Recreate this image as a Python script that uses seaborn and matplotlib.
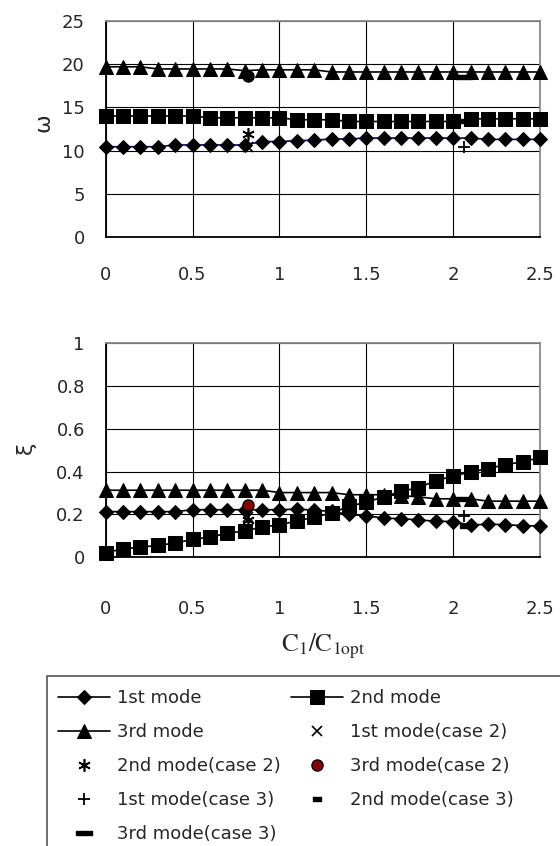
import matplotlib
matplotlib.use("Agg")
import matplotlib.pyplot as plt
from matplotlib.patches import Rectangle
import seaborn as sns
import pandas as pd

# ---------------- data ----------------
c_ratio = [0.0, 0.1, 0.2, 0.3, 0.4, 0.5, 0.6, 0.7, 0.8, 0.9, 1.0, 1.1, 1.2,
           1.3, 1.4, 1.5, 1.6, 1.7, 1.8, 1.9, 2.0, 2.1, 2.2, 2.3, 2.4, 2.5]

omega_1st = [10.45, 10.45, 10.45, 10.45, 10.65, 10.65, 10.65, 10.65, 10.65,
             11.05, 11.05, 11.15, 11.2, 11.35, 11.35, 11.45, 11.45, 11.45,
             11.45, 11.45, 11.45, 11.45, 11.3, 11.3, 11.3, 11.3]
omega_2nd = [14.0, 14.0, 14.0, 14.0, 14.0, 14.0, 13.8, 13.8, 13.8, 13.8, 13.8,
             13.57, 13.57, 13.57, 13.37, 13.37, 13.37, 13.37, 13.37, 13.37,
             13.37, 13.68, 13.68, 13.68, 13.68, 13.68]
omega_3rd = [19.7, 19.7, 19.7, 19.45, 19.45, 19.45, 19.45, 19.45, 19.25,
             19.35, 19.35, 19.35, 19.35, 19.1, 19.1, 19.1, 19.1, 19.1, 19.1,
             19.1, 19.1, 19.1, 19.1, 19.1, 19.1, 19.1]

xi_1st = [0.213, 0.213, 0.213, 0.213, 0.213, 0.222, 0.222, 0.222, 0.222,
          0.222, 0.222, 0.225, 0.22, 0.214, 0.2, 0.194, 0.183, 0.18, 0.175,
          0.168, 0.167, 0.15, 0.155, 0.152, 0.148, 0.146]
xi_2nd = [0.022, 0.039, 0.047, 0.056, 0.066, 0.084, 0.094, 0.112, 0.123,
          0.141, 0.152, 0.169, 0.188, 0.206, 0.238, 0.257, 0.282, 0.308,
          0.324, 0.358, 0.378, 0.399, 0.413, 0.433, 0.445, 0.466]
xi_3rd = [0.313, 0.313, 0.313, 0.313, 0.313, 0.313, 0.313, 0.313, 0.313,
          0.313, 0.302, 0.302, 0.302, 0.302, 0.292, 0.292, 0.292, 0.288,
          0.282, 0.273, 0.273, 0.273, 0.262, 0.262, 0.262, 0.262]

case2_x = 0.82
case3_x = 2.06
omega_case2 = [10.4, 11.95, 18.6]    # 1st, 2nd, 3rd mode
omega_case3 = [10.47, 13.4, 18.5]
xi_case2 = [0.19, 0.175, 0.245]
xi_case3 = [0.195, 0.145, 0.27]

x_ticks = [0, 0.5, 1, 1.5, 2, 2.5]
x_ticklabels = ["0", "0.5", "1", "1.5", "2", "2.5"]
omega_ticks = [0, 5, 10, 15, 20, 25]
xi_ticks = [0, 0.2, 0.4, 0.6, 0.8, 1.0]
xi_ticklabels = ["0", "0.2", "0.4", "0.6", "0.8", "1"]

mode_labels = ["1st mode", "2nd mode", "3rd mode"]
case2_labels = ["1st mode(case 2)", "2nd mode(case 2)", "3rd mode(case 2)"]
case3_labels = ["1st mode(case 3)", "2nd mode(case 3)", "3rd mode(case 3)"]

# ---------------- style ----------------
sns.set_style("white")
plt.rcParams["font.family"] = ["DejaVu Sans"]
plt.rcParams["mathtext.fontset"] = "stix"

W, H = 560, 846
fig = plt.figure(figsize=(W / 100, H / 100), dpi=100)

def frac_rect(left, top, right, bottom):
    return [left / W, 1 - bottom / H, (right - left) / W, (bottom - top) / H]

ax1 = fig.add_axes(frac_rect(105.7, 21, 540, 237))
ax2 = fig.add_axes(frac_rect(105.7, 343, 540, 557.3))

small_dash = [(-1, -0.45), (1, -0.45), (1, 0.45), (-1, 0.45), (-1, -0.45)]
wide_dash = [(-1, -0.3), (1, -0.3), (1, 0.3), (-1, 0.3), (-1, -0.3)]

mode_styles = [
    dict(marker="D", markersize=7.0),
    dict(marker="s", markersize=9.8),
    dict(marker="^", markersize=10.5),
]


def case2_styles(circle_face):
    return [
        dict(marker="x", markersize=7, markeredgewidth=1.2, color="black"),
        dict(marker=(6, 2, 0), markersize=9, markeredgewidth=1.2, color="black"),
        dict(marker="o", markersize=8, markerfacecolor=circle_face,
             markeredgecolor="black", markeredgewidth=1.0, color="black"),
    ]


case3_styles = [
    dict(marker="+", markersize=9, markeredgewidth=1.3, color="black"),
    dict(marker=small_dash, markersize=6, color="black"),
    dict(marker=wide_dash, markersize=11, color="black"),
]


def draw(ax, series, case2_vals, case3_vals, line_colors, circle_face):
    for vals, lab, st, lc in zip(series, mode_labels, mode_styles, line_colors):
        df = pd.DataFrame({"x": c_ratio, "y": vals})
        sns.lineplot(data=df, x="x", y="y", ax=ax, color=lc, linewidth=1.2,
                     markerfacecolor="black", markeredgecolor="black",
                     label=lab, clip_on=False, zorder=3, **st)
    for v, lab, st in zip(case2_vals, case2_labels, case2_styles(circle_face)):
        ax.plot([case2_x], [v], linestyle="none", label=lab, zorder=4,
                clip_on=False, **st)
    for v, lab, st in zip(case3_vals, case3_labels, case3_styles):
        ax.plot([case3_x], [v], linestyle="none", label=lab, zorder=4,
                clip_on=False, **st)


draw(ax1, [omega_1st, omega_2nd, omega_3rd], omega_case2, omega_case3,
     ["#000080", "black", "black"], "black")
draw(ax2, [xi_1st, xi_2nd, xi_3rd], xi_case2, xi_case3,
     ["black", "black", "black"], "#8B0000")

for ax, yt, ytl, ylim in [(ax1, omega_ticks, [str(t) for t in omega_ticks], (0, 25)),
                          (ax2, xi_ticks, xi_ticklabels, (0, 1))]:
    ax.set_xlim(0, 2.5)
    ax.set_ylim(*ylim)
    ax.set_xticks(x_ticks)
    ax.set_xticklabels(x_ticklabels)
    ax.set_yticks(yt)
    ax.set_yticklabels(ytl)
    ax.grid(True, color="black", linewidth=0.8)
    ax.set_axisbelow(True)
    for s in ["left", "bottom"]:
        ax.spines[s].set_color("black")
        ax.spines[s].set_linewidth(1.3)
    for s in ["top", "right"]:
        ax.spines[s].set_color("#8a8a8a")
        ax.spines[s].set_linewidth(1.3)
    ax.tick_params(axis="y", direction="in", length=0, pad=15, labelsize=13)
    ax.set_xlabel("")
    ax.get_legend().remove()

ax1.tick_params(axis="x", direction="out", length=4, pad=17, labelsize=13,
                color="black")
ax2.tick_params(axis="x", direction="out", length=4, pad=27, labelsize=13,
                color="black")

ax1.set_ylabel("ω", fontsize=16, rotation=90)
ax1.yaxis.set_label_coords(-0.12, 0.53)
ax2.set_ylabel("ξ", fontsize=16, rotation=90)
ax2.yaxis.set_label_coords(-0.16, 0.51)

ax2.set_xlabel(r"$\mathrm{C_1/C_{1opt}}$", fontsize=18)
ax2.xaxis.set_label_coords(0.5, -0.345)

handles, labels = ax2.get_legend_handles_labels()
order = [0, 2, 4, 6, 8, 1, 3, 5, 7]
leg = fig.legend([handles[i] for i in order], [labels[i] for i in order],
                 loc="upper left", bbox_to_anchor=(47 / W, 1 - 678 / H),
                 bbox_transform=fig.transFigure, borderaxespad=0, ncol=2,
                 fontsize=13, frameon=False, borderpad=0.6,
                 labelspacing=0.89, handlelength=2.9, handletextpad=0.35,
                 columnspacing=0.6, numpoints=1)

# legend box of the original runs past the right and bottom edges
fig.patches.append(Rectangle((47 / W, -0.05), 0.95, 1 - 676 / H + 0.05,
                             transform=fig.transFigure, fill=False,
                             edgecolor="#555555", linewidth=1.2, zorder=0))

fig.savefig("out.png", dpi=100)
